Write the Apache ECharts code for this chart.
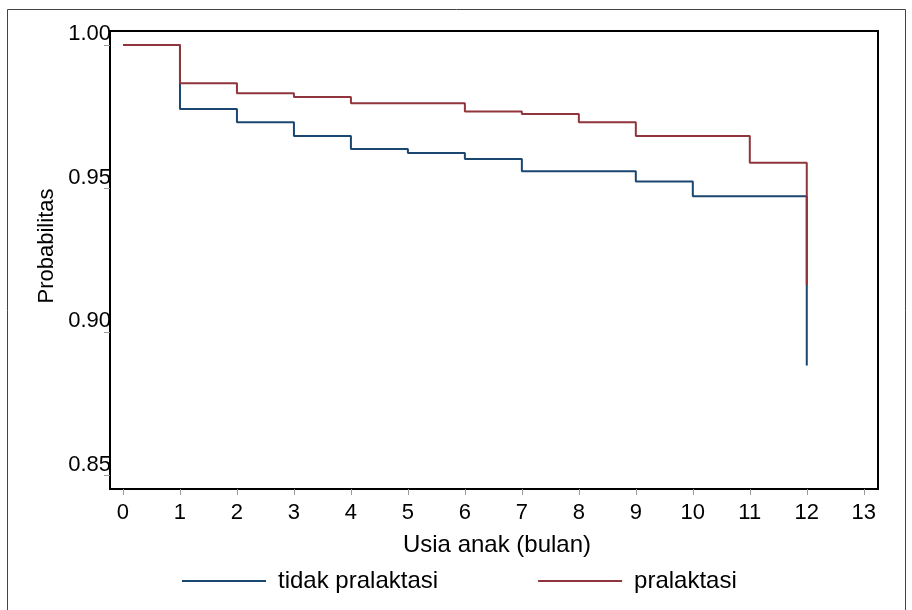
<!DOCTYPE html>
<html>
<head>
<meta charset="utf-8">
<script src="https://cdn.jsdelivr.net/npm/echarts@6/dist/echarts.min.js"></script>
<style>
  html, body { margin: 0; padding: 0; background: #fff; }
  #chart { width: 912px; height: 610px; }
</style>
</head>
<body>
<div id="chart"></div>
<script>
// Kaplan-Meier style survival estimates by month of age
const seriesNames = ['tidak pralaktasi', 'pralaktasi'];

const monthsTidak = [0, 1, 2, 3, 4, 5, 6, 7, 9, 10, 12];
const probTidak   = [1.0, 0.9777, 0.9731, 0.9683, 0.9638, 0.9624, 0.9603, 0.9560, 0.9524, 0.9473, 0.8883];

const monthsPral  = [0, 1, 2, 3, 4, 6, 7, 8, 9, 11, 12];
const probPral    = [1.0, 0.9867, 0.9832, 0.9819, 0.9797, 0.9768, 0.9760, 0.9731, 0.9683, 0.9590, 0.9164];

const xTicks = [0, 1, 2, 3, 4, 5, 6, 7, 8, 9, 10, 11, 12, 13];
const yTicks = [0.85, 0.90, 0.95, 1.00];

const xTitle = 'Usia anak (bulan)';
const yTitle = 'Probabilitas';

function pairs(xs, ys) {
  return xs.map((x, i) => [x, ys[i]]);
}

const FONT = '"Liberation Sans", Arial, sans-serif';
const BLUE = '#1a476f';
const RED = '#90353b';

const chart = echarts.init(document.getElementById('chart'), null, { renderer: 'canvas' });

chart.setOption({
  backgroundColor: '#fff',
  animation: false,
  textStyle: { fontFamily: FONT, color: '#000' },
  grid: {
    left: 110, top: 31, width: 768, height: 458,
    show: true, borderColor: '#000', borderWidth: 2, backgroundColor: '#fff'
  },
  xAxis: {
    type: 'value',
    min: -0.228, max: 13.25,
    axisLine: { show: false, onZero: false },
    splitLine: { show: false },
    axisTick: { show: true, customValues: xTicks, length: 6, inside: false,
                lineStyle: { color: '#999', width: 1 } },
    axisLabel: { customValues: xTicks, margin: 13, fontSize: 22, color: '#000',
                 fontFamily: FONT, formatter: v => String(v) }
  },
  yAxis: {
    type: 'value',
    min: 0.8453, max: 1.00488,
    axisLine: { show: false, onZero: false },
    splitLine: { show: false },
    axisTick: { show: true, customValues: yTicks, length: 6, inside: false,
                lineStyle: { color: '#999', width: 1 } },
    axisLabel: { customValues: yTicks, margin: -1, fontSize: 22, color: '#000',
                 fontFamily: FONT, align: 'right', verticalAlign: 'bottom',
                 formatter: v => v.toFixed(2) }
  },
  legend: {
    left: 177, top: 564,
    itemWidth: 84, itemHeight: 2, itemGap: 100,
    icon: 'rect',
    textStyle: { fontSize: 24, color: '#000', fontFamily: FONT, padding: [0, 0, 0, 7] },
    data: seriesNames
  },
  graphic: [
    { type: 'rect', silent: true, z: -1,
      shape: { x: 7.5, y: 9.5, width: 898, height: 620 },
      style: { fill: 'none', stroke: '#444', lineWidth: 1 } },
    { type: 'text', silent: true,
      x: 497, y: 545,
      style: { text: xTitle, fontSize: 24, fontFamily: FONT, fill: '#000',
               align: 'center', verticalAlign: 'middle' } },
    { type: 'text', silent: true,
      x: 47, y: 246, rotation: Math.PI / 2,
      style: { text: yTitle, fontSize: 22, fontFamily: FONT, fill: '#000',
               align: 'center', verticalAlign: 'middle' } }
  ],
  series: [
    {
      name: seriesNames[0], type: 'line', step: 'end',
      data: pairs(monthsTidak, probTidak),
      showSymbol: false, symbol: 'none',
      lineStyle: { color: BLUE, width: 2 }, itemStyle: { color: BLUE }
    },
    {
      name: seriesNames[1], type: 'line', step: 'end',
      data: pairs(monthsPral, probPral),
      showSymbol: false, symbol: 'none',
      lineStyle: { color: RED, width: 2 }, itemStyle: { color: RED }
    }
  ]
});
</script>
</body>
</html>
